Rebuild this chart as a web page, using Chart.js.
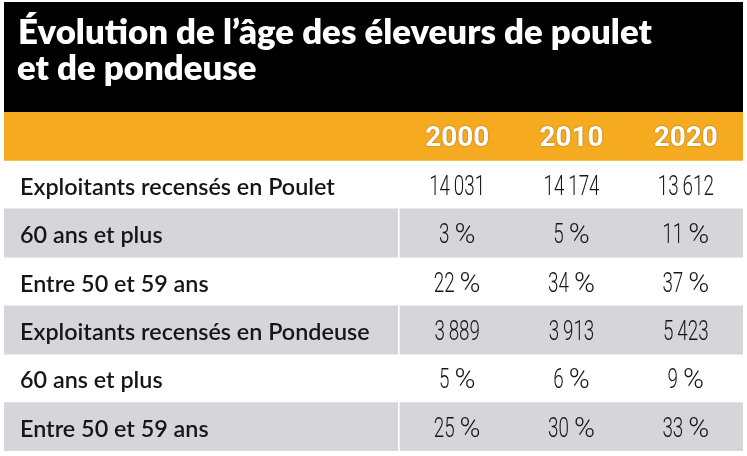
<!DOCTYPE html>
<html><head><meta charset="utf-8">
<script src="https://cdn.jsdelivr.net/npm/chart.js@4/dist/chart.umd.min.js"></script>
<style>html,body{margin:0;padding:0;background:#fff}#wrap{width:747px;height:456px}</style>
</head><body><div id="wrap"><canvas id="c" width="747" height="456"></canvas></div>
<script>
const titleLines = ['Évolution de l’âge des éleveurs de poulet', 'et de pondeuse'];
const years = ['2000', '2010', '2020'];
const rowLabels = [
  'Exploitants recensés en Poulet',
  '60 ans et plus',
  'Entre 50 et 59 ans',
  'Exploitants recensés en Pondeuse',
  '60 ans et plus',
  'Entre 50 et 59 ans'
];
const pouletCount = [14031, 14174, 13612];
const poulet60 = [3, 5, 11];
const poulet50 = [22, 34, 37];
const pondeuseCount = [3889, 3913, 5423];
const pondeuse60 = [5, 6, 9];
const pondeuse50 = [25, 30, 33];
const rowValues = [pouletCount, poulet60, poulet50, pondeuseCount, pondeuse60, pondeuse50];
const rowUnits = ['', '%', '%', '', '%', '%'];

const categories = ['header'].concat(rowLabels); // index 0 = orange year header band
const LABEL_SPAN = 3.4636; // width of the label column in year-column units
const headerBand = categories.map((_, i) => i === 0 ? [-LABEL_SPAN, years.length] : null);
const labelCells = categories.map((_, i) => (i > 0 && i % 2 === 0) ? [-LABEL_SPAN, -0.02] : null);
const valueCells = categories.map((_, i) => (i > 0 && i % 2 === 0) ? [0, years.length] : null);

function fmtNum(v) {
  return String(v).replace(/\B(?=(\d{3})+(?!\d))/g, '\u2009');
}

const ORANGE = '#f5aa1f', GREY = '#d6d5d9', INK = '#161616';
const NUM_FONT = '300 28px Roboto';

const tablePlugin = {
  id: 'tableText',
  beforeDraw(chart) {
    const { ctx, chartArea: a } = chart;
    ctx.save();
    ctx.fillStyle = '#000';
    ctx.fillRect(a.left, 2, a.right - a.left, a.top - 2);
    ctx.restore();
  },
  afterDatasetsDraw(chart) {
    const { ctx, chartArea: a, scales: { x, y } } = chart;
    ctx.save();
    ctx.textBaseline = 'alphabetic';
    // title
    ctx.fillStyle = '#fff';
    ctx.textAlign = 'left';
    ctx.font = '800 30px Lato';
    let fs = 30 * 634 / ctx.measureText(titleLines[0]).width;
    ctx.font = `800 ${fs}px Lato`;
    ctx.fillText(titleLines[0], a.left + 14, 44);
    ctx.fillText(titleLines[1], a.left + 13, 80);

    // year headers
    ctx.font = 'bold 28px Roboto';
    const ys = 64 / ctx.measureText('2000').width;
    years.forEach((yr, i) => {
      const cx = x.getPixelForValue(i + 0.5), cy = y.getPixelForValue(0);
      ctx.save();
      ctx.translate(cx, cy + 10);
      ctx.scale(ys, 1);
      ctx.textAlign = 'center';
      ctx.shadowColor = 'rgba(0,0,0,0.45)';
      ctx.shadowBlur = 1.5;
      ctx.fillStyle = '#fff';
      ctx.fillText(yr, 0, 0);
      ctx.restore();
    });

    // row labels
    ctx.fillStyle = INK;
    ctx.font = '600 24px Lato';
    let ls = 24 * 315 / ctx.measureText(rowLabels[0]).width;
    ctx.font = `600 ${ls}px Lato`;
    ctx.textAlign = 'left';
    rowLabels.forEach((lab, r) => {
      ctx.fillText(lab, a.left + 16, y.getPixelForValue(r + 1) + 10);
    });

    // values
    ctx.font = NUM_FONT;
    const vs = 56 / ctx.measureText(fmtNum(14031)).width;
    const ps = 21 / ctx.measureText('%').width;
    rowValues.forEach((vals, r) => {
      vals.forEach((v, i) => {
        const cx = x.getPixelForValue(i + 0.5), by = y.getPixelForValue(r + 1) + 10;
        const num = fmtNum(v);
        const nw = ctx.measureText(num).width * vs;
        const unit = rowUnits[r];
        const gap = unit ? 5 : 0;
        const pw = unit ? ctx.measureText(unit).width * ps : 0;
        const x0 = cx - (nw + gap + pw) / 2;
        ctx.save();
        ctx.translate(x0, by); ctx.scale(vs, 1);
        ctx.fillText(num, 0, 0);
        ctx.restore();
        if (unit) {
          ctx.save();
          ctx.translate(x0 + nw + gap, by); ctx.scale(ps, 1);
          ctx.fillText(unit, 0, 0);
          ctx.restore();
        }
      });
    });
    ctx.restore();
  }
};

const barCommon = { grouped: false, barPercentage: 1, categoryPercentage: 1, borderWidth: 0, borderSkipped: false };

new Chart(document.getElementById('c'), {
  type: 'bar',
  data: {
    labels: categories,
    datasets: [
      Object.assign({ label: 'header', data: headerBand, backgroundColor: ORANGE }, barCommon),
      Object.assign({ label: 'labels', data: labelCells, backgroundColor: GREY }, barCommon),
      Object.assign({ label: 'values', data: valueCells, backgroundColor: GREY }, barCommon)
    ]
  },
  options: {
    indexAxis: 'y',
    responsive: false,
    animation: false,
    devicePixelRatio: 1,
    layout: { padding: { left: 4, right: 4, top: 112, bottom: 5 } },
    scales: {
      x: { type: 'linear', min: -LABEL_SPAN, max: years.length, display: false },
      y: { type: 'category', display: false, offset: true, grid: { offset: true } }
    },
    plugins: { legend: { display: false }, tooltip: { enabled: false }, title: { display: false } }
  },
  plugins: [tablePlugin]
});
</script>
</body></html>
